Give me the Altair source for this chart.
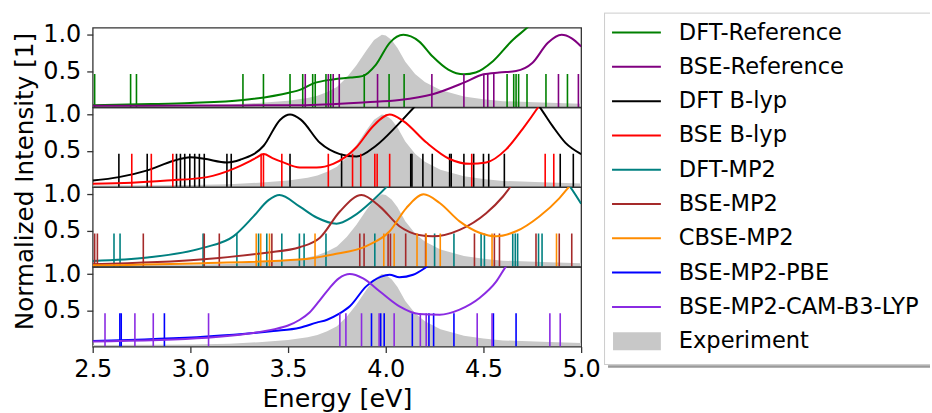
import altair as alt
import pandas as pd

FONT = "DejaVu Sans"
EXP_GRAY = "#c8c8c8"

# ---------------- Experiment (shared by all panels) ----------------
exp_energy = [2.50, 2.80, 3.00, 3.20, 3.35, 3.50, 3.60, 3.65, 3.70, 3.75, 3.80, 3.85, 3.90,
              3.94, 3.98, 4.00, 4.03, 4.06, 4.10, 4.15, 4.20, 4.28, 4.40, 4.50, 4.60, 4.80, 5.00]
exp_intensity = [0.02, 0.025, 0.03, 0.04, 0.06, 0.09, 0.13, 0.16, 0.21, 0.28, 0.41, 0.58, 0.78,
                 0.93, 1.00, 0.99, 0.93, 0.82, 0.63, 0.46, 0.35, 0.24, 0.15, 0.11, 0.085, 0.065, 0.05]

# ---------------- Panel 1 ----------------
dft_ref_sticks = [2.51, 2.694, 2.724, 3.269, 3.374, 3.510, 3.575, 3.626, 3.639, 3.694, 3.718,
                  3.890, 4.017, 4.094, 4.621, 4.655, 4.667, 4.680, 4.723, 4.820, 4.930]
dft_ref_e = [2.50, 2.80, 3.00, 3.27, 3.51, 3.56, 3.63, 3.73, 3.82, 3.88, 3.95, 4.02, 4.09,
             4.17, 4.24, 4.32, 4.40, 4.46, 4.55, 4.65, 4.72, 4.78, 4.85, 5.00]
dft_ref_i = [0.03, 0.045, 0.06, 0.10, 0.205, 0.24, 0.33, 0.385, 0.41, 0.43, 0.59, 0.89, 1.00,
             0.91, 0.70, 0.52, 0.455, 0.48, 0.64, 0.93, 1.09, 1.25, 1.40, 1.50]

bse_ref_sticks = [3.588, 3.706, 3.731, 3.762, 3.958, 4.236, 4.400, 4.502, 4.522, 4.553,
                  4.884, 4.986]
bse_ref_e = [2.50, 3.00, 3.56, 3.90, 4.07, 4.24, 4.40, 4.50, 4.58, 4.667, 4.75, 4.83, 4.90,
             4.95, 5.00]
bse_ref_i = [0.02, 0.025, 0.03, 0.07, 0.10, 0.18, 0.34, 0.455, 0.48, 0.50, 0.61, 0.89, 1.00,
             0.955, 0.84]

# ---------------- Panel 2 ----------------
dft_blyp_sticks = [2.634, 2.779, 2.929, 2.949, 2.971, 2.997, 3.022, 3.046, 3.071, 3.187, 3.209,
                   3.510, 3.774, 4.128, 4.134, 4.190, 4.238, 4.327, 4.335, 4.400, 4.450, 4.500,
                   4.527, 4.607, 4.893, 4.960]
dft_blyp_e = [2.50, 2.634, 2.78, 2.915, 3.00, 3.07, 3.187, 3.255, 3.375, 3.46, 3.51, 3.565,
              3.663, 3.765, 3.85, 3.95, 4.055, 4.148, 4.25, 4.45, 4.65, 4.786, 4.854, 4.92, 5.00]
dft_blyp_i = [0.09, 0.137, 0.23, 0.364, 0.41, 0.39, 0.34, 0.377, 0.57, 0.93, 1.00, 0.93,
              0.61, 0.455, 0.42, 0.57, 0.84, 1.11, 1.40, 1.70, 1.50, 1.11, 0.84, 0.61, 0.455]

bse_blyp_sticks = [2.700, 2.800, 2.910, 3.362, 3.374, 3.468, 3.706, 3.830, 3.872, 3.944, 3.956,
                   4.020, 4.440, 4.816, 4.860]
bse_blyp_e = [2.50, 2.70, 2.88, 3.085, 3.22, 3.30, 3.34, 3.375, 3.42, 3.476, 3.56, 3.646,
              3.731, 3.85, 3.935, 4.02, 4.09, 4.21, 4.327, 4.43, 4.514, 4.616, 4.70, 4.777,
              4.85, 5.00]
bse_blyp_i = [0.045, 0.06, 0.09, 0.137, 0.25, 0.35, 0.41, 0.455, 0.40, 0.34, 0.27, 0.27,
              0.32, 0.55, 0.84, 1.00, 0.91, 0.61, 0.387, 0.32, 0.34, 0.52, 0.80, 1.09,
              1.40, 1.70]

# ---------------- Panel 3 ----------------
dft_mp2_sticks = [2.609, 2.640, 3.065, 3.238, 3.349, 3.391, 3.468, 3.558, 3.582, 3.694, 3.944,
                  4.250, 4.349, 4.488, 4.505, 4.650, 4.663, 4.675, 4.782, 4.800]
dft_mp2_e = [2.50, 2.78, 3.068, 3.22, 3.323, 3.40, 3.456, 3.56, 3.646, 3.748, 3.833, 3.935,
             4.007, 4.10, 4.50, 4.85, 4.942, 5.00]
dft_mp2_i = [0.08, 0.127, 0.264, 0.42, 0.695, 0.92, 0.99, 0.83, 0.68, 0.595, 0.695, 0.92,
             1.11, 1.40, 1.80, 1.40, 1.11, 0.87]

bse_mp2_sticks = [2.510, 2.524, 2.759, 3.071, 3.148, 3.417, 3.867, 3.889, 4.012, 4.024, 4.102,
                  4.204, 4.454, 4.556, 4.582, 4.769, 4.888, 4.952]
bse_mp2_e = [2.50, 3.068, 3.39, 3.56, 3.663, 3.765, 3.876, 3.97, 4.07, 4.17, 4.24, 4.378,
             4.514, 4.60, 4.64, 4.75, 5.00]
bse_mp2_i = [0.036, 0.104, 0.195, 0.27, 0.40, 0.763, 0.99, 0.83, 0.56, 0.44, 0.42, 0.51,
             0.74, 0.97, 1.11, 1.50, 1.80]

cbse_mp2_sticks = [3.337, 3.360, 3.405, 3.638, 3.990, 4.043, 4.160, 4.207, 4.279, 4.544, 4.874]
cbse_mp2_e = [2.50, 3.068, 3.56, 3.73, 3.90, 4.02, 4.105, 4.194, 4.276, 4.378, 4.48, 4.565,
              4.667, 4.786, 4.888, 4.94, 5.00]
cbse_mp2_i = [0.02, 0.05, 0.10, 0.17, 0.286, 0.49, 0.81, 1.00, 0.88, 0.627, 0.47, 0.42,
              0.49, 0.695, 0.945, 1.11, 1.30]

# ---------------- Panel 4 ----------------
pbe_sticks = [2.639, 2.646, 2.867, 3.927, 3.974, 3.992, 4.136, 4.221, 4.245, 4.349, 4.551, 4.667]
pbe_e = [2.50, 3.085, 3.425, 3.56, 3.646, 3.70, 3.76, 3.816, 3.90, 3.977, 4.02, 4.07, 4.14,
         4.199, 4.22, 4.30]
pbe_i = [0.077, 0.137, 0.214, 0.26, 0.33, 0.37, 0.45, 0.555, 0.83, 0.965, 0.99, 0.955, 0.99,
         1.08, 1.12, 1.30]

cam_sticks = [2.563, 2.716, 2.810, 3.093, 3.765, 3.796, 3.876, 3.966, 4.043, 4.177, 4.207,
              4.468, 4.544, 4.840, 4.893]
cam_e = [2.50, 3.085, 3.30, 3.425, 3.50, 3.56, 3.61, 3.66, 3.71, 3.76, 3.816, 3.884, 3.97,
         4.07, 4.17, 4.276, 4.378, 4.48, 4.565, 4.616, 4.70]
cam_i = [0.07, 0.123, 0.18, 0.237, 0.29, 0.37, 0.47, 0.63, 0.80, 0.94, 1.00, 0.94, 0.76,
         0.555, 0.45, 0.44, 0.51, 0.67, 0.895, 1.11, 1.40]

# ---------------- Legend ----------------
legend_labels = ["DFT-Reference", "BSE-Reference", "DFT B-lyp", "BSE B-lyp", "DFT-MP2",
                 "BSE-MP2", "CBSE-MP2", "BSE-MP2-PBE", "BSE-MP2-CAM-B3-LYP", "Experiment"]
legend_colors = ["#008000", "#800080", "#000000", "#ff0000", "#008080",
                 "#a52a2a", "#ff8c00", "#0000ff", "#8a2be2", EXP_GRAY]

x_ticks = [2.5, 3.0, 3.5, 4.0, 4.5, 5.0]
y_ticks = [0.5, 1.0]

xscale = alt.Scale(domain=[2.5, 5.0], nice=False, zero=False)
yscale = alt.Scale(domain=[0.0, 1.1], nice=False, zero=False)

exp_df = pd.DataFrame({"E": exp_energy, "I": exp_intensity})


def series_layers(sticks, ce, ci, color, xaxis, yaxis):
    s = alt.Chart(pd.DataFrame({"E": sticks})).mark_rule(
        color=color, strokeWidth=1.6, clip=True
    ).encode(
        x=alt.X("E:Q", scale=xscale, axis=xaxis),
        y=alt.YDatum(0, axis=yaxis),
        y2=alt.Y2Datum(0.46),
    )
    c = alt.Chart(pd.DataFrame({"E": ce, "I": ci})).mark_line(
        color=color, strokeWidth=2, clip=True, interpolate="monotone"
    ).encode(
        x=alt.X("E:Q", scale=xscale, axis=xaxis),
        y=alt.Y("I:Q", scale=yscale, axis=yaxis),
    )
    return [s, c]


def panel(series, ytitle=False, bottom=False):
    if bottom:
        xaxis = alt.Axis(values=x_ticks, format=".1f", title="Energy [eV]", titlePadding=5)
    else:
        xaxis = None
    if ytitle:
        yaxis = alt.Axis(values=y_ticks, format=".1f", title="Normalized Intensity [1]",
                         titleX=-60, titleY=74, titleAngle=270, titleAlign="center",
                         titleBaseline="alphabetic", titleFontSize=24.7)
    else:
        yaxis = alt.Axis(values=y_ticks, format=".1f", title=None)
    exp = alt.Chart(exp_df).mark_area(color=EXP_GRAY, clip=True).encode(
        x=alt.X("E:Q", scale=xscale, axis=xaxis),
        y=alt.Y("I:Q", scale=yscale, axis=yaxis),
        y2=alt.Y2Datum(0),
    )
    layers = [exp]
    for sticks, ce, ci, color in series:
        layers += series_layers(sticks, ce, ci, color, xaxis, yaxis)
    return alt.layer(*layers).properties(
        width=490, height=80,
        view=alt.ViewBackground(stroke="#333333", strokeWidth=1.3),
    )


p1 = panel([(dft_ref_sticks, dft_ref_e, dft_ref_i, legend_colors[0]),
            (bse_ref_sticks, bse_ref_e, bse_ref_i, legend_colors[1])])
p2 = panel([(dft_blyp_sticks, dft_blyp_e, dft_blyp_i, legend_colors[2]),
            (bse_blyp_sticks, bse_blyp_e, bse_blyp_i, legend_colors[3])], ytitle=True)
p3 = panel([(dft_mp2_sticks, dft_mp2_e, dft_mp2_i, legend_colors[4]),
            (bse_mp2_sticks, bse_mp2_e, bse_mp2_i, legend_colors[5]),
            (cbse_mp2_sticks, cbse_mp2_e, cbse_mp2_i, legend_colors[6])])
p4 = panel([(pbe_sticks, pbe_e, pbe_i, legend_colors[7]),
            (cam_sticks, cam_e, cam_i, legend_colors[8])], bottom=True)

main = alt.vconcat(p1, p2, p3, p4, spacing=0, bounds="flush")

# ---------------- custom legend panel ----------------
leg_df = pd.DataFrame({"label": legend_labels, "row": list(range(len(legend_labels)))})
leg_y = alt.Scale(domain=[0, 9], range=[5, 314.6])
cscale = alt.Scale(domain=legend_labels, range=legend_colors)
one = pd.DataFrame({"k": [0]})

box_top = alt.Chart(one).mark_rule(color="#cccccc", strokeWidth=1).encode(
    x=alt.value(0), x2=alt.value(327), y=alt.value(-14.5))
box_left = alt.Chart(one).mark_rule(color="#cccccc", strokeWidth=1).encode(
    x=alt.value(0.5), y=alt.value(-14.5), y2=alt.value(338))
box_shadow = alt.Chart(one).mark_rule(color="#9a9a9a", strokeWidth=2.5).encode(
    x=alt.value(4), x2=alt.value(327), y=alt.value(340))
box_bottom = alt.Chart(one).mark_rule(color="#cccccc", strokeWidth=1).encode(
    x=alt.value(0), x2=alt.value(327), y=alt.value(338))

sym_lines = alt.Chart(leg_df).transform_filter("datum.row < 9").mark_rule(
    strokeWidth=2).encode(
    x=alt.value(8), x2=alt.value(57),
    y=alt.Y("row:Q", scale=leg_y, axis=None),
    color=alt.Color("label:N", scale=cscale, legend=None),
)
sym_patch = alt.Chart(leg_df).transform_filter("datum.row == 9").mark_rule(
    strokeWidth=18, color=EXP_GRAY, strokeCap="butt").encode(
    x=alt.value(9), x2=alt.value(57),
    y=alt.Y("row:Q", scale=leg_y, axis=None),
)
sym_text = alt.Chart(leg_df).mark_text(
    align="left", baseline="middle", font=FONT, fontSize=22.6, color="black").encode(
    x=alt.value(75),
    y=alt.Y("row:Q", scale=leg_y, axis=None),
    text="label:N",
)
legend = alt.layer(box_top, box_left, box_shadow, box_bottom, sym_lines, sym_patch,
                   sym_text).properties(
    width=327, height=320, view=alt.ViewBackground(strokeWidth=0))

chart = alt.hconcat(main, legend, spacing=2).properties(
    padding={"left": 12, "top": 12, "right": 0, "bottom": 0}
).configure(font=FONT).configure_axis(
    labelFont=FONT, titleFont=FONT, labelFontSize=24, titleFontSize=25.5,
    titleFontWeight="normal", labelColor="black", titleColor="black",
    tickColor="#333333", tickWidth=1.3, tickSize=6, domain=False, grid=False,
    labelFlush=False, labelOverlap=False, labelPadding=5,
).configure_axisY(labelPadding=6)

chart.save("out.html", embed_options={"renderer": "svg", "actions": False})
